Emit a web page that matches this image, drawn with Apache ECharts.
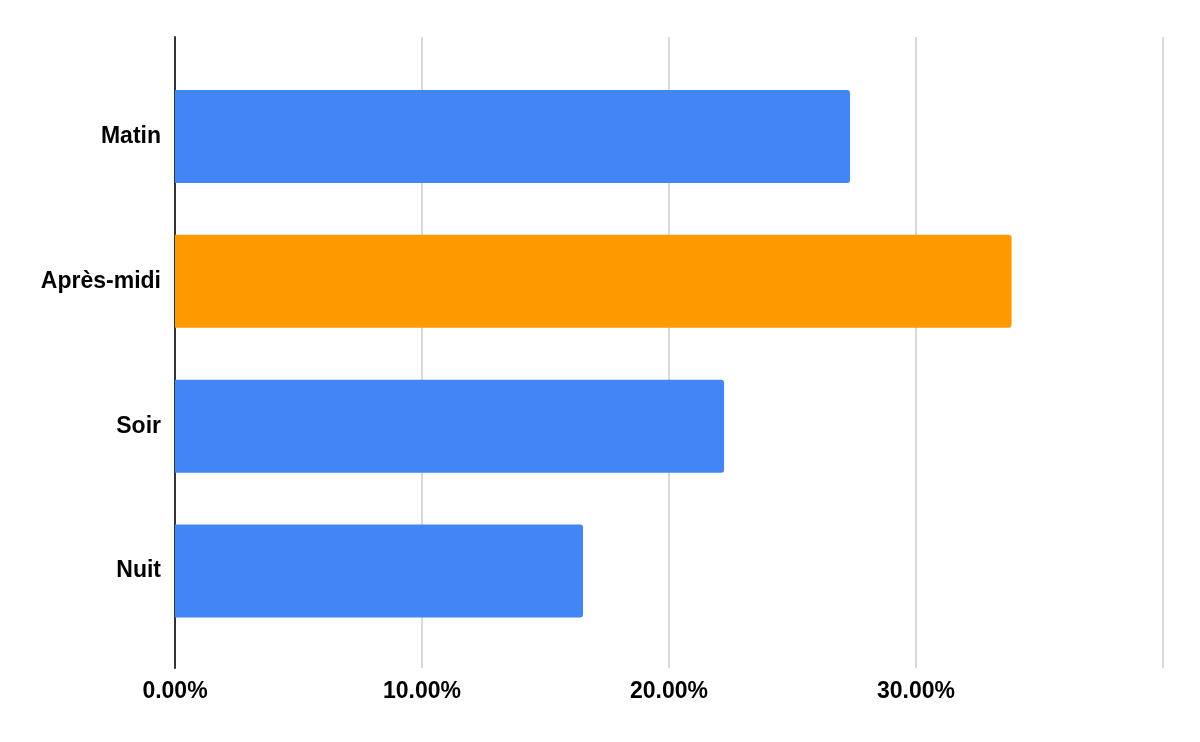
<!DOCTYPE html>
<html>
<head>
<meta charset="utf-8">
<script src="https://cdn.jsdelivr.net/npm/echarts@6/dist/echarts.min.js"></script>
<style>html,body{margin:0;padding:0;background:#fff}#c{width:1200px;height:742px}</style>
</head>
<body>
<div id="c"></div>
<script>
const categories = ['Matin', 'Après-midi', 'Soir', 'Nuit'];
const values = [27.33, 33.87, 22.23, 16.52];
const barColors = ['#4285F4', '#FF9900', '#4285F4', '#4285F4'];
const axisMin = 0, axisMax = 40, axisStep = 10;

const font = '"Liberation Sans", Arial, sans-serif';
const chart = echarts.init(document.getElementById('c'));
chart.setOption({
  animation: false,
  grid: [
    { left: 175, right: 37, top: 64, bottom: 98.5 },
    { left: 175, right: 37, top: 37, bottom: 74 }
  ],
  xAxis: [
    { gridIndex: 0, type: 'value', min: axisMin, max: axisMax, interval: axisStep, show: false },
    { gridIndex: 1, type: 'value', min: axisMin, max: axisMax, interval: axisStep,
      axisLine: { show: false }, axisTick: { show: false },
      splitLine: { show: true, lineStyle: { color: '#cccccc', width: 1.5 } },
      axisLabel: { margin: 12, color: '#000', fontWeight: 'bold', fontSize: 23, fontFamily: font,
        formatter: v => v === axisMax ? '' : v.toFixed(2) + '%' } }
  ],
  yAxis: [
    { gridIndex: 0, type: 'category', data: categories, inverse: true,
      axisLine: { show: false }, axisTick: { show: false },
      axisLabel: { margin: 14, color: '#000', fontWeight: 'bold', fontSize: 23, fontFamily: font } },
    { gridIndex: 1, type: 'value', min: 0, max: 1,
      axisLine: { show: true, lineStyle: { color: '#333333', width: 2 } },
      axisTick: { show: false }, axisLabel: { show: false }, splitLine: { show: false } }
  ],
  series: [{
    type: 'bar', xAxisIndex: 0, yAxisIndex: 0, z: 3,
    barCategoryGap: '35.8%',
    data: values.map((v, i) => ({ value: v, itemStyle: { color: barColors[i] } })),
    itemStyle: { borderRadius: [0, 3, 3, 0] }
  }]
});
</script>
</body>
</html>
